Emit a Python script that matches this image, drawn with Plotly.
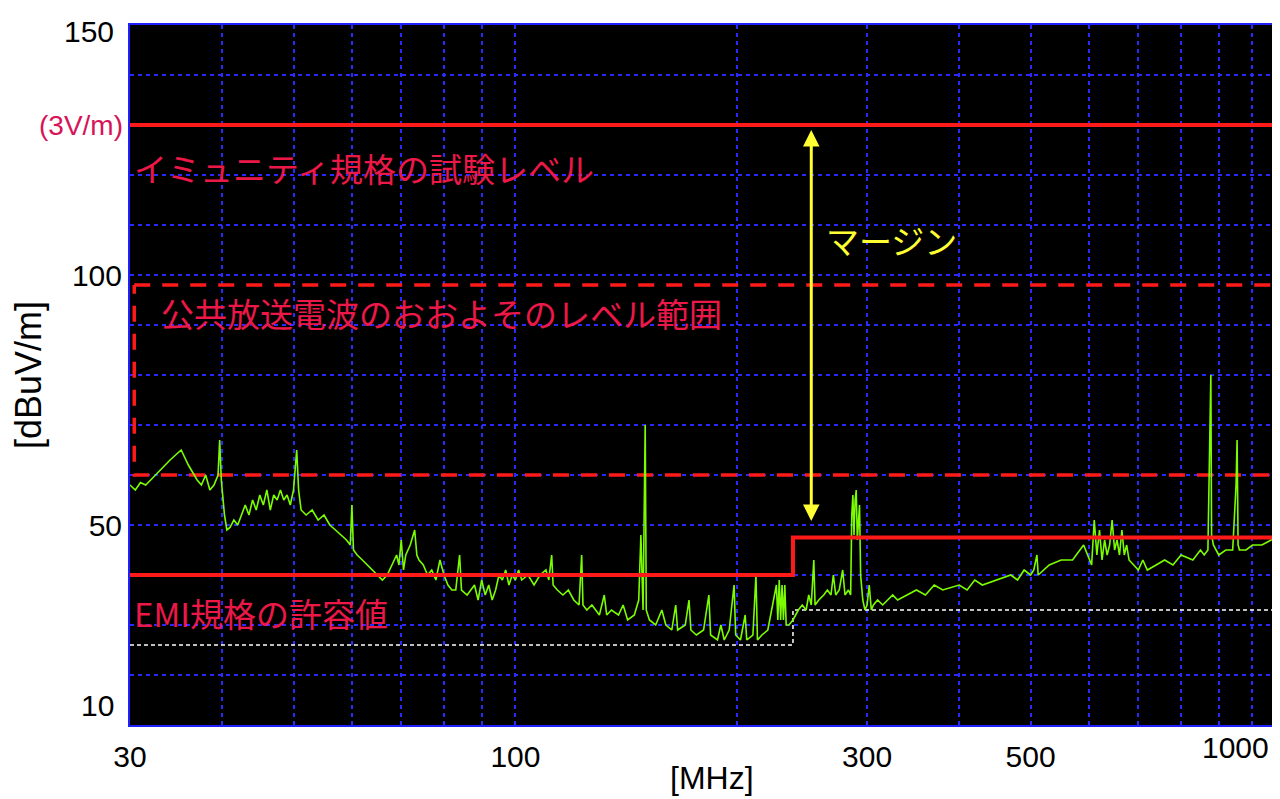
import plotly.graph_objects as go
import math

# spectrum (MHz, dBuV/m)
freq = [30,30.5,31,31.5,32,33,34,35.2,36,37,37.5,38,38.5,39,39.5,39.7,39.9,40.3,40.6,41,41.5,42,42.5,43,43.5,44,44.5,45,45.5,46,46.5,47,47.5,48,48.5,49,49.5,50,50.5,50.8,51.2,52,53,54,55,56,57,58,59,59.7,60,60.3,61,62,63,64,65,66,67,68,69,69.5,70,70.5,71,72,73,73.5,74,75,76,77,78,79,80,81,82,83,84,84.5,86,87,88,89,90,91,92,93,94,95,96,97,98,99,100,101,102,104,106,108,110,111,112,112.5,114,116,118,120,122,123,123.5,125,127,130,132,133,135,138,140,142,145,147,148,149,150,150.5,152,155,158,160,163,165,166,170,172,173,176,180,183,184,188,190,192,195,198,199,202,205,206,210,212,213,216,220,226,227,228,229,230,231,232,233,235,238,240,242,245,248,250,252,254,255,258,262,265,268,270,272,275,278,280,283,285,286,287,288,289,290,291,292,293,294,296,298,300,302,304,306,310,315,320,325,330,340,350,360,370,380,400,410,420,430,450,470,480,490,500,505,510,512,530,550,570,590,605,610,615,620,625,630,635,640,645,650,655,660,665,670,675,680,690,700,710,720,740,760,780,800,830,850,860,870,878,880,885,900,920,940,950,953,956,960,980,1000,1030,1060,1080,1100]
level = [58,57,58.5,58,59,61,63,65,62,59,58,60,57,58,60,67,59,52,49,49.5,51,50,52,54,52,55,53,56,54,57,53,56,55,57,55,56,54,57,65,57,53,52,53,51,52,50,49,48,47,46,54,45,44,43,42,41,40,39,40,42,44,42,47,41,44,46,49,44,43,42,40,41,39,43,40,38,37,37,44,37,36,37,38,35,39,36,38,35,37,40,39,41,38,40,39,41,39,40,38,40,41,39,44,38,37,36,37,35,34,44,34,33,34,32,36,32,33,32,34,31,32,35,48,33,70,33,31,30,33,30,29,34,29,30,35,29,28,29,36,28,27,30,27,29,38,28,27,32,27,28,40,27,28,29,38,31,39,31,38,31,38,30,30,31,32,33,34,33,36,34,43,34,35,36,37,36,40,36,37,41,36,37,36,52,56,48,55,57,47,50,54,40,35,33,34,38,33,34,35,34,35,36,35,36,37,36,38,37,38,37,39,38,39,40,39,41,40,41,44,40,42,43,43,46,42,51,44,49,43,47,44,46,51,45,47,44,49,44,46,43,42,41,43,41,42,43,42,44,43,45,44,45,80,48,46,44,45,45,58,67,46,45,45,46,46,47,48,48]

emi_f = [30, 238, 238, 1100]
emi_v = [40, 40, 47.5, 47.5]
qp_f = [30, 238, 238, 1100]
qp_v = [26, 26, 33, 33]
immunity_level = 130
band_low, band_high = 60, 98
xgrid = [30,40,50,60,70,80,90,100,200,300,400,500,600,700,800,900,1000]
xlabels = {30:"30",100:"100",300:"300",500:"500"}
ygrid = list(range(10, 151, 10))
ylabels = {100:"100",50:"50"}

RED = "#ff1a1a"
TXT = "#ec1848"
NUM = "Liberation Sans Narrow, Liberation Sans"
fig = go.Figure()
fig.add_trace(go.Scatter(x=[30, 1100], y=[immunity_level]*2, mode="lines", line=dict(color=RED, width=4)))
fig.add_trace(go.Scatter(x=[30.4, 1085, 1085, 30.4, 30.4], y=[band_high, band_high, band_low, band_low, band_high],
                         mode="lines", line=dict(color=RED, width=3.5, dash="16px,12px")))
fig.add_trace(go.Scatter(x=qp_f, y=qp_v, mode="lines", line=dict(color="white", width=1.5, dash="4px,3px")))
fig.add_trace(go.Scatter(x=freq, y=level, mode="lines", line=dict(color="#7cfc00", width=1.6)))
fig.add_trace(go.Scatter(x=emi_f, y=emi_v, mode="lines", line=dict(color=RED, width=4)))

fig.add_annotation(x=math.log10(252), y=129, ax=math.log10(252), ay=50.5,
                   xref="x", yref="y", axref="x", ayref="y", text="", showarrow=True,
                   arrowhead=2, startarrowhead=2, arrowside="end+start", arrowwidth=3, arrowsize=1.1,
                   arrowcolor="#ffff33")

JP = "Noto Sans CJK JP"
def txt(x, y, s, color, size, xref="x", xanchor="left", family=JP, yanchor="middle"):
    fig.add_annotation(x=x, y=y, xref=xref, yref="y", text=s, showarrow=False, xanchor=xanchor,
                       yanchor=yanchor, font=dict(family=family, size=size, color=color))
txt(math.log10(30.2), 121.5, "イミュニティ規格の試験レベル", TXT, 33)
txt(math.log10(32.8), 92.5, "公共放送電波のおおよそのレベル範囲", TXT, 33)
txt(math.log10(262), 107, "マージン", "#ffff33", 33)
txt(math.log10(30.2), 32.5, "EMI規格の許容値", TXT, 33)
txt(-0.004, 130, "(3V/m)", "#d6145a", 28, xref="paper", xanchor="right", family=NUM)
txt(-0.012, 14, "10", "black", 30, xref="paper", xanchor="right", family=NUM)
fig.add_annotation(x=-0.012, y=1, xref="paper", yref="paper", yshift=12, text="150", showarrow=False,
                   xanchor="right", yanchor="top", font=dict(family=NUM, size=30, color="black"))
fig.add_annotation(x=1.0, y=0, xref="paper", yref="paper", yshift=-4, xshift=-12, text="1000", showarrow=False,
                   xanchor="right", yanchor="top", font=dict(family=NUM, size=30, color="black"))
fig.add_annotation(x=0.505, y=0, xref="paper", yref="paper", yshift=-33, text="[MHz]", showarrow=False,
                   xanchor="center", yanchor="top", font=dict(family=NUM, size=32, color="black"))

fig.update_layout(
    width=1280, height=799, showlegend=False, paper_bgcolor="white", plot_bgcolor="black",
    margin=dict(l=122, r=3, t=17, b=82),
    font=dict(family=NUM, size=30, color="black"),
    xaxis=dict(type="log", range=[math.log10(30), math.log10(1100)], tickvals=xgrid,
               ticktext=[xlabels.get(v, "") for v in xgrid], showgrid=True, gridcolor="#2a2aff",
               griddash="4px,4px", gridwidth=1.5, zeroline=False, showline=True, linecolor="#2020ff",
               linewidth=2, mirror=True, ticks="", ticklabelstandoff=4),
    yaxis=dict(range=[10, 150], tickvals=ygrid, ticktext=[ylabels.get(v, "") for v in ygrid],
               showgrid=True, gridcolor="#2a2aff", griddash="4px,4px", gridwidth=1.5, zeroline=False,
               showline=True, linecolor="#2020ff", linewidth=2, mirror=True, ticks="",
               title=dict(text="[dBuV/m]", standoff=30)),
)
fig.write_html("out.html")
